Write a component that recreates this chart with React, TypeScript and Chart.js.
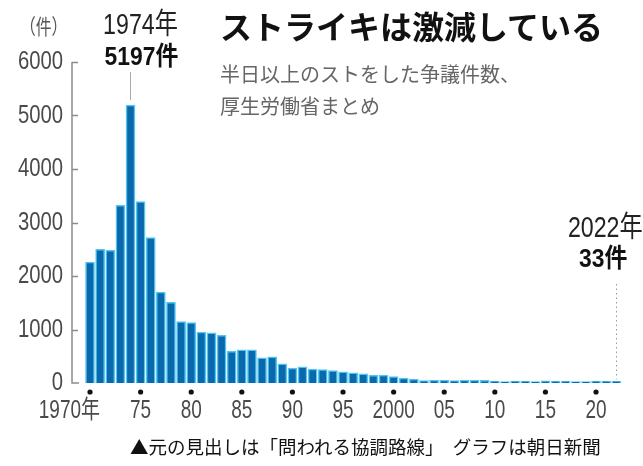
import React, { useEffect, useRef } from "react";
import { Chart, registerables } from "chart.js";

Chart.register(...registerables);

const YEARS = [
  1970, 1971, 1972, 1973, 1974, 1975, 1976, 1977, 1978, 1979,
  1980, 1981, 1982, 1983, 1984, 1985, 1986, 1987, 1988, 1989,
  1990, 1991, 1992, 1993, 1994, 1995, 1996, 1997, 1998, 1999,
  2000, 2001, 2002, 2003, 2004, 2005, 2006, 2007, 2008, 2009,
  2010, 2011, 2012, 2013, 2014, 2015, 2016, 2017, 2018, 2019,
  2020, 2021, 2022,
];

const STRIKES = [
  2260, 2500, 2480, 3320, 5197, 3390, 2720, 1700, 1510, 1150,
  1130, 950, 940, 890, 590, 620, 620, 470, 490, 360,
  280, 300, 260, 250, 230, 210, 190, 170, 145, 150,
  118, 90, 74, 47, 51, 50, 46, 54, 52, 48,
  38, 28, 38, 31, 27, 39, 31, 38, 26, 27,
  35, 32, 33,
];

const Y_TICKS = [0, 1000, 2000, 3000, 4000, 5000, 6000];
const Y_TICK_LABELS = ["0", "1000", "2000", "3000", "4000", "5000", "6000"];
const X_TICK_YEARS = [1970, 1975, 1980, 1985, 1990, 1995, 2000, 2005, 2010, 2015, 2020];
const X_TICK_LABELS = ["1970年", "75", "80", "85", "90", "95", "2000", "05", "10", "15", "20"];

const PEAK_YEAR = 1974;
const PEAK_TEXT = ["1974年", "5197件"];
const LAST_YEAR = 2022;
const LAST_TEXT = ["2022年", "33件"];

const LAT = '"Liberation Sans", "Noto Sans CJK JP", sans-serif';
const JP = '"Noto Sans CJK JP", "Noto Sans", sans-serif';

function txt(
  ctx: CanvasRenderingContext2D,
  s: string,
  x: number,
  y: number,
  font: string,
  color: string,
  align: CanvasTextAlign,
  sx: number
) {
  ctx.save();
  ctx.font = font;
  ctx.fillStyle = color;
  ctx.textBaseline = "middle";
  ctx.textAlign = align;
  ctx.translate(x, y);
  ctx.scale(sx, 1);
  ctx.fillText(s, 0, 0);
  ctx.restore();
}

const decorPlugin = {
  id: "decor",
  afterDraw(chart: any) {
    const { ctx, chartArea } = chart;
    const x = chart.scales.x;
    const y = chart.scales.y;
    const left = chartArea.left;
    const y0 = y.getPixelForValue(0);
    const yTop = y.getPixelForValue(Y_TICKS[Y_TICKS.length - 1]);
    ctx.save();

    // y axis line with inner ticks
    ctx.strokeStyle = "#8c8c8c";
    ctx.lineWidth = 1.5;
    ctx.beginPath();
    ctx.moveTo(left, yTop);
    ctx.lineTo(left, y0);
    ctx.lineTo(left + 7, y0);
    Y_TICKS.forEach((v) => {
      if (v === 0) return;
      const py = Math.round(y.getPixelForValue(v)) + 0.5;
      ctx.moveTo(left, py);
      ctx.lineTo(left + 6, py);
    });
    ctx.stroke();

    // y labels
    Y_TICKS.forEach((v, i) => {
      txt(ctx, Y_TICK_LABELS[i], left - 9, y.getPixelForValue(v), `26px ${LAT}`, "#4a4a4a", "right", 0.78);
    });

    // x tick dots and labels
    ctx.fillStyle = "#111";
    X_TICK_YEARS.forEach((yr) => {
      const px = x.getPixelForValue(yr);
      ctx.beginPath();
      ctx.arc(px, y0 + 9, 2.6, 0, Math.PI * 2);
      ctx.fill();
    });
    X_TICK_YEARS.forEach((yr, i) => {
      const px = x.getPixelForValue(yr);
      if (i === 0) {
        txt(ctx, X_TICK_LABELS[i], px + 10, y0 + 28, `25px ${LAT}`, "#4a4a4a", "right", 0.76);
      } else {
        txt(ctx, X_TICK_LABELS[i], px, y0 + 28, `25px ${LAT}`, "#4a4a4a", "center", 0.76);
      }
    });

    // peak annotation
    const pIdx = YEARS.indexOf(PEAK_YEAR);
    const px = x.getPixelForValue(PEAK_YEAR);
    const pTop = y.getPixelForValue(STRIKES[pIdx]);
    ctx.strokeStyle = "#aaaaaa";
    ctx.lineWidth = 1;
    ctx.beginPath();
    ctx.moveTo(Math.round(px) + 0.5, 72);
    ctx.lineTo(Math.round(px) + 0.5, pTop - 5);
    ctx.stroke();
    txt(ctx, PEAK_TEXT[0], px + 10, 26, `29px ${LAT}`, "#222", "center", 0.8);
    txt(ctx, PEAK_TEXT[1], px + 11, 58, `bold 26px ${LAT}`, "#111", "center", 0.88);

    // last-year annotation
    const lIdx = YEARS.indexOf(LAST_YEAR);
    const lx = x.getPixelForValue(LAST_YEAR);
    const lTop = y.getPixelForValue(STRIKES[lIdx]);
    ctx.strokeStyle = "#9a9a9a";
    ctx.setLineDash([1.5, 3]);
    ctx.beginPath();
    ctx.moveTo(Math.round(lx) + 0.5, 284);
    ctx.lineTo(Math.round(lx) + 0.5, lTop - 2);
    ctx.stroke();
    ctx.setLineDash([]);
    txt(ctx, LAST_TEXT[0], lx - 11, 229, `29px ${LAT}`, "#222", "center", 0.8);
    txt(ctx, LAST_TEXT[1], lx - 13, 260, `bold 26px ${LAT}`, "#111", "center", 0.88);

    ctx.restore();
  },
};

export default function App() {
  const ref = useRef<HTMLCanvasElement | null>(null);

  useEffect(() => {
    if (!ref.current) return;
    const chart = new Chart(ref.current, {
      type: "bar",
      data: {
        datasets: [
          {
            label: "争議件数",
            data: YEARS.map((yr, i) => ({ x: yr, y: STRIKES[i] })),
            backgroundColor: "#0a68ad",
            borderColor: "#52c6f0",
            borderWidth: 1.5,
            barThickness: 9,
          },
        ],
      },
      options: {
        responsive: false,
        animation: false,
        events: [],
        layout: { padding: { top: 62, right: 17, bottom: 43, left: 0 } },
        plugins: { legend: { display: false }, tooltip: { enabled: false }, title: { display: false } },
        scales: {
          x: {
            type: "linear",
            offset: false,
            min: 1968.22,
            max: 2022.96,
            grid: { display: false, offset: false },
            border: { display: false },
            ticks: { display: false },
            afterFit: (s: any) => {
              s.height = 40;
            },
          },
          y: {
            min: 0,
            max: 6000,
            grid: { display: false },
            border: { display: false },
            ticks: { display: false, stepSize: 1000 },
            afterFit: (s: any) => {
              s.width = 72;
            },
          },
        },
      },
      plugins: [decorPlugin],
    });
    return () => chart.destroy();
  }, []);

  return (
    <div style={{ position: "fixed", left: 0, top: 0, width: 643, height: 466, background: "#fff", overflow: "hidden" }}>
      <canvas ref={ref} width={643} height={466} style={{ position: "absolute", left: 0, top: 0, width: 643, height: 466 }} />
      <div style={{ position: "absolute", left: 20, top: 13, font: `21px ${JP}`, color: "#555", lineHeight: "24px", whiteSpace: "nowrap", transform: "scaleX(0.75)", transformOrigin: "left center" }}>
        （件）
      </div>
      <div style={{ position: "absolute", left: 220, top: 8, font: `bold 32px ${JP}`, color: "#111", lineHeight: "34px", whiteSpace: "nowrap" }}>
        ストライキは激減している
      </div>
      <div style={{ position: "absolute", left: 220, top: 58, font: `20px ${JP}`, color: "#666", lineHeight: "32px", whiteSpace: "nowrap" }}>
        半日以上のストをした争議件数、
        <br />
        厚生労働省まとめ
      </div>
      <div style={{ position: "absolute", left: 130, top: 436, font: `18.5px ${JP}`, color: "#111", lineHeight: "20px", whiteSpace: "nowrap" }}>
        ▲元の見出しは「問われる協調路線」　グラフは朝日新聞
      </div>
    </div>
  );
}
